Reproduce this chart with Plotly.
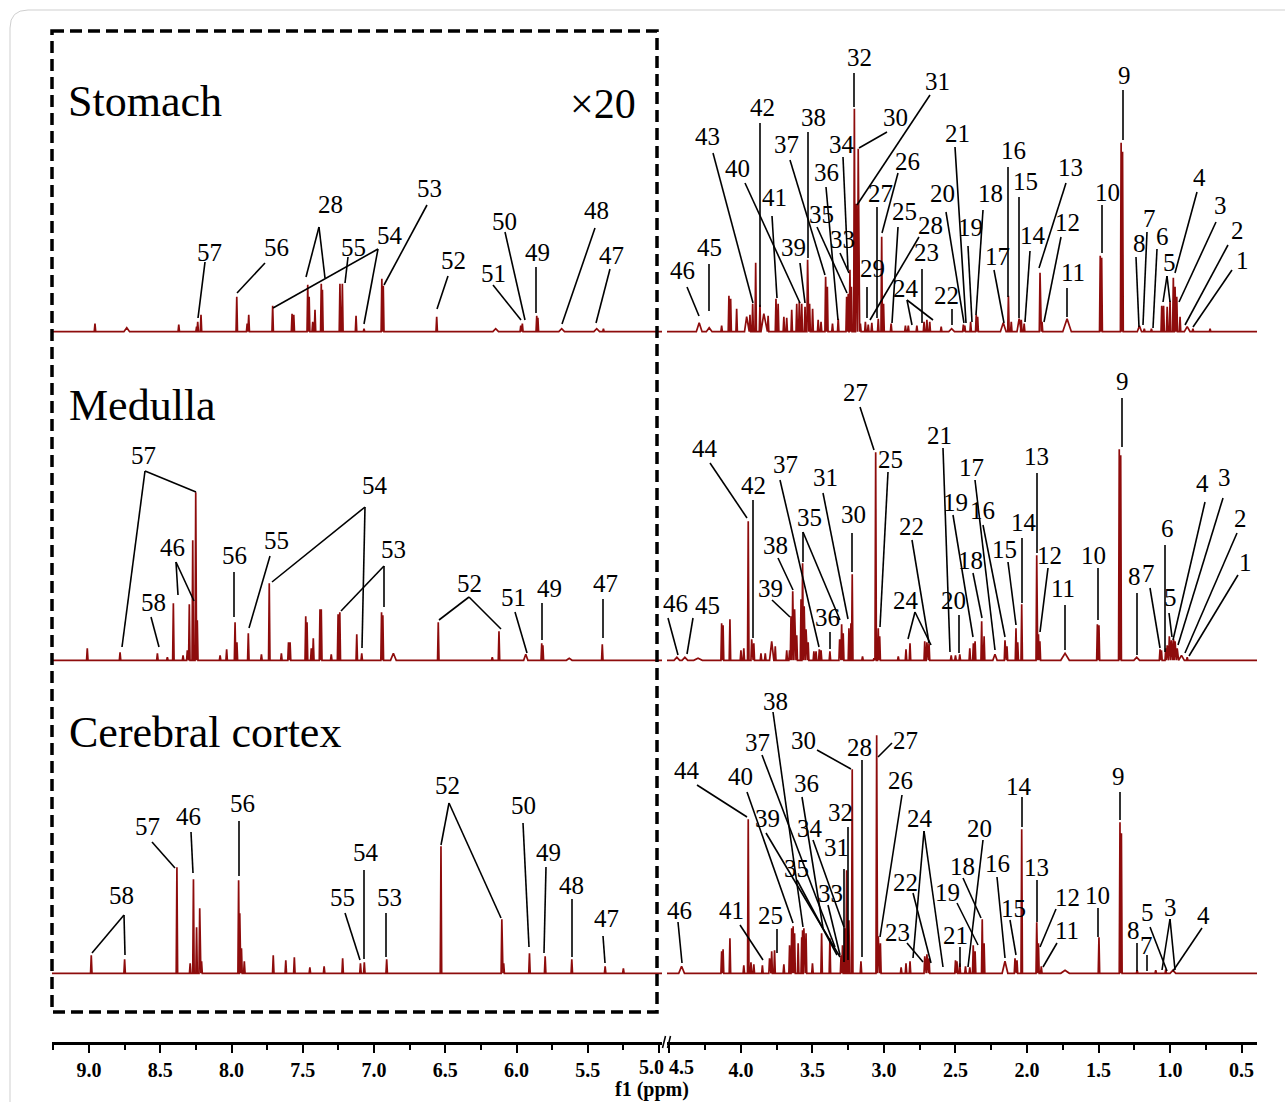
import plotly.graph_objects as go

# ---------------- data: peaks (ppm, intensity[, half-width]) -------------
STOMACH_LEFT = [(8.958, 8), (8.735, 4, 0.02), (8.37, 7), (8.245, 5), (8.237, 10), (8.214, 17),
    (7.963, 35), (7.89, 8), (7.879, 17), (7.711, 26), (7.575, 18), (7.563, 17), (7.465, 47),
    (7.455, 35), (7.43, 10), (7.414, 22), (7.37, 48), (7.362, 42), (7.239, 48), (7.222, 48),
    (7.126, 16), (7.07, 3), (6.945, 53), (6.935, 46), (6.56, 15), (6.146, 3, 0.02), (5.97, 6),
    (5.959, 8), (5.858, 16), (5.85, 14), (5.683, 3, 0.02), (5.437, 3, 0.02), (5.39, 3)]
STOMACH_RIGHT = [(4.292, 9, 0.02), (4.222, 4, 0.02), (4.135, 6), (4.084, 36), (4.072, 33),
    (4.03, 23), (3.96, 15, 0.015), (3.937, 17), (3.918, 28), (3.897, 69), (3.867, 27),
    (3.84, 18, 0.02), (3.81, 16), (3.755, 33), (3.74, 28), (3.70, 15), (3.68, 14), (3.645, 22),
    (3.61, 28), (3.592, 30), (3.575, 28), (3.552, 25), (3.534, 72), (3.52, 28), (3.499, 23),
    (3.46, 12), (3.44, 10), (3.408, 55), (3.396, 45), (3.36, 8), (3.32, 13), (3.261, 35),
    (3.25, 38), (3.238, 62), (3.228, 45), (3.207, 223), (3.194, 128), (3.18, 183), (3.165, 8),
    (3.13, 10), (3.11, 7), (3.085, 9), (3.04, 13), (3.016, 95), (3.003, 28), (2.95, 8),
    (2.85, 6), (2.83, 6), (2.77, 6), (2.72, 10), (2.70, 12), (2.68, 10), (2.60, 5),
    (2.527, 3, 0.02), (2.445, 7), (2.435, 6), (2.394, 10), (2.355, 17), (2.345, 15),
    (2.166, 9, 0.02), (2.13, 36), (2.11, 10), (2.055, 13, 0.015), (2.04, 12), (2.02, 8),
    (1.909, 59), (1.895, 10), (1.72, 13, 0.03), (1.488, 76), (1.478, 74), (1.342, 189),
    (1.332, 180), (1.214, 6, 0.015), (1.18, 3), (1.13, 3), (1.058, 26), (1.045, 26),
    (1.02, 25), (1.00, 31), (0.977, 54), (0.965, 45), (0.953, 35), (0.93, 15),
    (0.88, 5, 0.02), (0.84, 3), (0.72, 3)]
MEDULLA_LEFT = [(9.012, 12), (8.782, 8), (8.52, 7), (8.45, 3), (8.408, 57), (8.34, 5),
    (8.31, 10), (8.296, 56), (8.272, 120), (8.251, 168), (8.24, 40), (8.08, 5), (8.034, 11),
    (7.975, 38), (7.962, 18), (7.882, 27), (7.79, 6), (7.735, 77), (7.65, 7), (7.60, 18),
    (7.589, 18), (7.479, 44), (7.47, 38), (7.44, 12), (7.426, 22), (7.379, 51), (7.37, 51),
    (7.30, 6), (7.252, 46), (7.24, 48), (7.121, 26), (7.086, 7), (6.947, 48), (6.938, 45),
    (6.864, 7, 0.02), (6.549, 38), (6.17, 3), (6.123, 29), (5.935, 6, 0.015), (5.823, 17),
    (5.815, 15), (5.63, 2, 0.02), (5.398, 16)]
MEDULLA_RIGHT = [(4.448, 3, 0.02), (4.392, 3, 0.02), (4.3, 2, 0.03), (4.135, 37), (4.125, 35),
    (4.077, 41), (4.0, 10), (3.98, 12), (3.949, 139), (3.925, 21), (3.91, 17), (3.86, 7),
    (3.83, 7), (3.785, 19, 0.015), (3.76, 14), (3.68, 10), (3.66, 10), (3.65, 44), (3.638, 69),
    (3.625, 51), (3.61, 25), (3.58, 61), (3.569, 97), (3.558, 54), (3.545, 31), (3.53, 18),
    (3.49, 9), (3.475, 9), (3.452, 11), (3.44, 10), (3.378, 9), (3.31, 21), (3.296, 36),
    (3.285, 27), (3.245, 32), (3.231, 37), (3.222, 86), (3.15, 4), (3.07, 2), (3.058, 208),
    (3.04, 32), (3.03, 24), (2.90, 4), (2.846, 11), (2.818, 17), (2.715, 19), (2.70, 18),
    (2.685, 17), (2.53, 5), (2.50, 5), (2.47, 6), (2.40, 12), (2.375, 17), (2.363, 19),
    (2.317, 39), (2.30, 24), (2.224, 6, 0.015), (2.154, 20), (2.14, 14), (2.077, 32),
    (2.065, 18), (2.037, 56), (1.932, 105), (1.92, 26), (1.91, 19), (1.734, 7, 0.03),
    (1.508, 36), (1.497, 35), (1.355, 211), (1.345, 205), (1.233, 3, 0.02), (1.07, 11),
    (1.06, 10), (1.03, 12), (1.02, 15), (1.005, 24), (0.99, 20), (0.975, 21), (0.965, 19),
    (0.95, 12), (0.92, 5, 0.02), (0.88, 3)]
CORTEX_LEFT = [(8.984, 18), (8.75, 14), (8.383, 106), (8.29, 10), (8.267, 94), (8.245, 46),
    (8.223, 65), (8.21, 12), (7.95, 93), (7.942, 60), (7.93, 25), (7.91, 12), (7.707, 18),
    (7.619, 13), (7.559, 16), (7.45, 6), (7.35, 7), (7.22, 15), (7.095, 10), (7.068, 11),
    (6.911, 14), (6.53, 127), (6.103, 54), (6.09, 10), (5.909, 20), (5.799, 17), (5.612, 14),
    (5.378, 7), (5.25, 5)]
CORTEX_RIGHT = [(4.415, 7, 0.02), (4.135, 22), (4.125, 24), (4.077, 35), (3.98, 8),
    (3.949, 154), (3.93, 11), (3.91, 9), (3.85, 8), (3.80, 15), (3.785, 22), (3.765, 23),
    (3.70, 9), (3.66, 28), (3.645, 45), (3.635, 47), (3.625, 40), (3.60, 30), (3.575, 36),
    (3.569, 43), (3.56, 45), (3.545, 40), (3.50, 10), (3.436, 40), (3.378, 35), (3.30, 18),
    (3.29, 28), (3.273, 45), (3.261, 103), (3.245, 53), (3.222, 204), (3.161, 12),
    (3.051, 238), (3.04, 37), (3.025, 30), (2.88, 6), (2.846, 10), (2.818, 12), (2.715, 17),
    (2.70, 19), (2.685, 15), (2.50, 13), (2.49, 12), (2.47, 10), (2.43, 7), (2.40, 6),
    (2.376, 28), (2.363, 22), (2.313, 54), (2.30, 30), (2.154, 12, 0.02), (2.084, 15),
    (2.07, 13), (2.037, 144), (1.932, 51), (1.92, 30), (1.90, 7), (1.734, 3, 0.03),
    (1.497, 36), (1.35, 151), (1.34, 140), (1.23, 3), (1.10, 3), (1.03, 4), (0.98, 3, 0.02)]

PANELS = ["Stomach", "Medulla", "Cerebral cortex"]
TICKS_LEFT = [9.0, 8.5, 8.0, 7.5, 7.0, 6.5, 6.0, 5.5, 5.0]
TICKS_RIGHT = [4.5, 4.0, 3.5, 3.0, 2.5, 2.0, 1.5, 1.0, 0.5]
MINOR_LEFT = [9.25, 8.75, 8.25, 7.75, 7.25, 6.75, 6.25, 5.75, 5.25]
MINOR_RIGHT = [4.25, 3.75, 3.25, 2.75, 2.25, 1.75, 1.25, 0.75]

# ---------------- layout constants (pixels) ----------------
W, H, PH = 1285, 1102, 1042
LEFT_RANGE = [9.2596, 4.979]
RIGHT_RANGE = [4.517, 0.392]
BASE = {"Stomach": PH - 331.7, "Medulla": PH - 660.3, "Cerebral cortex": PH - 973.3}
RED = "#8e0c0c"
HW = 0.005
SERIF = "Liberation Serif"


def px(x):
    return x / W


def py(y):
    return (PH - y) / PH


def stick(peaks, rng, base):
    xs, ys = [rng[0]], [base]
    for p in sorted(peaks, key=lambda t: -t[0]):
        w = p[2] if len(p) > 2 else HW
        xs += [p[0] + w, p[0], p[0] - w]
        ys += [base, base + p[1], base]
    xs.append(rng[1]); ys.append(base)
    return xs, ys


# label layout: (text, x, y, [leader lines x0,y0,x1,y1]) in page pixels
LABELS = [
    ("57", 209, 252, [(205, 262, 198, 318)]), ("56", 276, 247, [(265, 263, 237, 293)]),
    ("28", 331, 204, [(319, 227, 306, 277), (319, 227, 325, 278)]),
    ("55", 353, 247, [(348, 257, 345, 283)]),
    ("54", 390, 236, [(378, 249, 364, 324), (378, 249, 273, 308)]),
    ("53", 430, 188, [(427, 205, 384, 285)]), ("52", 453, 260, [(448, 276, 437, 309)]),
    ("51", 493, 273, [(493, 285, 521, 320)]), ("50", 504, 221, [(505, 232, 525, 320)]),
    ("49", 537, 252, [(536, 267, 536, 313)]), ("48", 596, 211, [(595, 228, 562, 324)]),
    ("47", 611, 255, [(610, 269, 596, 323)]),
    ("46", 682, 270, [(687, 287, 699, 316)]), ("45", 709, 248, [(709, 264, 709, 311)]),
    ("43", 707, 137, [(713, 153, 753, 303)]), ("40", 737, 168, [(745, 183, 800, 303)]),
    ("42", 762, 108, [(760, 123, 760, 307)]), ("41", 774, 198, [(772, 216, 777, 298)]),
    ("39", 793, 247, [(800, 263, 805, 303)]), ("38", 813, 117, [(808, 132, 808, 258)]),
    ("37", 786, 145, [(790, 160, 825, 275)]), ("36", 826, 172, [(826, 187, 838, 320)]),
    ("35", 822, 215, [(817, 227, 847, 293)]), ("34", 842, 145, [(843, 157, 848, 270)]),
    ("33", 842, 240, [(840, 253, 849, 273)]), ("32", 859, 58, [(854, 73, 854, 107)]),
    ("30", 895, 117, [(887, 132, 859, 148)]), ("31", 937, 82, [(930, 95, 857, 205)]),
    ("27", 880, 193, [(877, 207, 877, 318)]), ("26", 907, 162, [(898, 173, 882, 233)]),
    ("25", 904, 212, [(898, 227, 892, 323)]), ("28", 930, 225, [(919, 237, 870, 320)]),
    ("29", 872, 268, [(867, 287, 867, 318)]), ("23", 926, 253, [(922, 269, 922, 323)]),
    ("24", 906, 288, [(907, 300, 912, 325), (907, 300, 933, 320)]),
    ("22", 946, 295, [(952, 309, 952, 325)]), ("20", 943, 194, [(946, 212, 964, 323)]),
    ("21", 957, 133, [(955, 147, 966, 323)]), ("19", 970, 227, [(968, 246, 972, 322)]),
    ("18", 990, 193, [(983, 210, 976, 315)]), ("17", 997, 256, [(994, 270, 1004, 323)]),
    ("16", 1013, 150, [(1008, 167, 1008, 297)]), ("15", 1025, 182, [(1019, 197, 1019, 318)]),
    ("14", 1033, 235, [(1030, 251, 1025, 322)]), ("13", 1070, 167, [(1066, 183, 1039, 268)]),
    ("12", 1067, 222, [(1061, 237, 1044, 322)]), ("11", 1073, 272, [(1067, 288, 1067, 317)]),
    ("10", 1107, 192, [(1102, 205, 1102, 253)]), ("9", 1124, 75, [(1123, 90, 1123, 140)]),
    ("8", 1139, 244, [(1136, 257, 1139, 327)]), ("7", 1149, 218, [(1147, 232, 1143, 325)]),
    ("6", 1162, 237, [(1157, 249, 1153, 328)]),
    ("5", 1169, 262, [(1167, 276, 1163, 302), (1167, 276, 1170, 302)]),
    ("4", 1199, 177, [(1197, 192, 1175, 273)]), ("3", 1220, 205, [(1216, 222, 1179, 302)]),
    ("2", 1237, 230, [(1228, 245, 1185, 325)]), ("1", 1242, 260, [(1232, 270, 1193, 327)]),
    # medulla
    ("57", 143, 455, [(145, 471, 122, 647), (145, 471, 196, 492)]),
    ("58", 153, 602, [(151, 617, 159, 647)]),
    ("46", 172, 548, [(176, 562, 178, 595), (176, 562, 194, 601)]),
    ("56", 234, 556, [(234, 572, 234, 617)]), ("55", 276, 540, [(270, 556, 249, 628)]),
    ("54", 375, 485, [(365, 507, 362, 648), (365, 507, 272, 582)]),
    ("53", 393, 549, [(384, 566, 384, 607), (384, 566, 341, 611)]),
    ("52", 469, 583, [(469, 597, 439, 620), (469, 597, 501, 629)]),
    ("51", 513, 597, [(515, 612, 527, 653)]), ("49", 549, 588, [(542, 603, 542, 640)]),
    ("47", 605, 583, [(603, 599, 603, 638)]),
    ("46", 675, 603, [(668, 618, 678, 655)]), ("45", 707, 605, [(693, 618, 687, 654)]),
    ("44", 705, 448, [(710, 463, 747, 518)]), ("42", 753, 485, [(753, 500, 753, 638)]),
    ("37", 785, 465, [(780, 480, 819, 647)]), ("38", 775, 545, [(778, 558, 793, 590)]),
    ("39", 770, 588, [(772, 600, 790, 617)]),
    ("35", 809, 517, [(803, 532, 803, 562), (803, 532, 840, 620)]),
    ("36", 827, 617, [(830, 632, 830, 649)]), ("31", 825, 478, [(823, 493, 848, 619)]),
    ("30", 853, 514, [(852, 533, 852, 572)]), ("27", 855, 392, [(860, 407, 874, 450)]),
    ("25", 890, 459, [(888, 472, 880, 627)]),
    ("24", 906, 600, [(915, 612, 908, 639), (915, 612, 931, 645)]),
    ("22", 911, 527, [(912, 540, 929, 643)]), ("21", 940, 435, [(943, 448, 950, 652)]),
    ("20", 953, 600, [(959, 615, 959, 653)]), ("19", 955, 502, [(953, 515, 973, 637)]),
    ("17", 971, 467, [(975, 480, 995, 650)]), ("18", 970, 560, [(973, 573, 982, 618)]),
    ("16", 983, 510, [(983, 525, 1005, 637)]), ("15", 1004, 549, [(1008, 562, 1016, 625)]),
    ("14", 1024, 522, [(1022, 538, 1022, 603)]), ("13", 1036, 457, [(1037, 473, 1037, 553)]),
    ("12", 1049, 555, [(1048, 568, 1040, 632)]), ("11", 1063, 588, [(1065, 605, 1065, 650)]),
    ("10", 1093, 555, [(1098, 568, 1098, 620)]), ("9", 1122, 382, [(1122, 398, 1122, 447)]),
    ("8", 1134, 577, [(1137, 593, 1137, 655)]), ("7", 1148, 573, [(1150, 588, 1160, 648)]),
    ("6", 1167, 528, [(1165, 545, 1165, 652)]), ("5", 1170, 597, [(1169, 613, 1172, 637)]),
    ("4", 1202, 483, [(1205, 502, 1173, 640)]), ("3", 1224, 478, [(1223, 498, 1178, 645)]),
    ("2", 1240, 518, [(1237, 533, 1185, 653)]), ("1", 1245, 562, [(1238, 575, 1189, 656)]),
    # cerebral cortex
    ("58", 121, 895, [(124, 915, 92, 953), (124, 915, 125, 955)]),
    ("57", 147, 827, [(152, 842, 175, 868)]), ("46", 188, 816, [(191, 832, 193, 873)]),
    ("56", 242, 803, [(239, 821, 239, 876)]), ("55", 342, 898, [(345, 913, 360, 960)]),
    ("54", 366, 852, [(364, 870, 364, 959)]), ("53", 389, 898, [(386, 913, 386, 957)]),
    ("52", 447, 785, [(449, 803, 441, 845), (449, 803, 501, 918)]),
    ("50", 523, 805, [(523, 823, 529, 947)]), ("49", 548, 852, [(546, 867, 544, 953)]),
    ("48", 571, 885, [(572, 899, 572, 957)]), ("47", 606, 918, [(603, 936, 605, 963)]),
    ("46", 679, 910, [(678, 922, 682, 963)]), ("41", 731, 910, [(740, 925, 763, 960)]),
    ("25", 770, 915, [(777, 929, 777, 953)]), ("44", 687, 770, [(697, 785, 747, 817)]),
    ("40", 741, 777, [(747, 792, 793, 923)]), ("39", 767, 819, [(766, 833, 840, 957)]),
    ("37", 757, 743, [(762, 755, 835, 947)]), ("38", 775, 701, [(773, 712, 803, 927)]),
    ("35", 796, 868, [(797, 880, 837, 955)]), ("30", 803, 740, [(817, 750, 851, 769)]),
    ("36", 806, 783, [(802, 797, 823, 928)]), ("34", 810, 828, [(813, 840, 844, 927)]),
    ("33", 830, 893, [(828, 905, 840, 955)]), ("31", 836, 848, [(844, 869, 844, 962)]),
    ("32", 840, 812, [(848, 827, 848, 960)]), ("28", 859, 747, [(862, 760, 862, 957)]),
    ("27", 905, 740, [(892, 743, 878, 757)]), ("26", 901, 780, [(902, 795, 880, 937)]),
    ("24", 920, 819, [(924, 831, 913, 958), (924, 831, 943, 967)]),
    ("23", 897, 932, [(907, 943, 923, 962)]), ("22", 905, 882, [(913, 893, 931, 963)]),
    ("21", 955, 935, [(960, 947, 960, 967)]), ("19", 947, 892, [(957, 903, 978, 945)]),
    ("20", 980, 828, [(983, 840, 968, 967)]), ("18", 962, 866, [(963, 878, 981, 918)]),
    ("16", 997, 863, [(997, 877, 1005, 958)]), ("15", 1013, 908, [(1010, 920, 1016, 955)]),
    ("14", 1019, 786, [(1022, 797, 1022, 827)]), ("13", 1036, 867, [(1037, 880, 1037, 922)]),
    ("12", 1067, 897, [(1056, 909, 1040, 947)]), ("11", 1067, 930, [(1057, 943, 1043, 967)]),
    ("10", 1097, 895, [(1098, 908, 1098, 937)]), ("9", 1118, 777, [(1120, 792, 1120, 820)]),
    ("8", 1133, 930, [(1137, 943, 1137, 971)]), ("7", 1146, 945, [(1147, 955, 1147, 971)]),
    ("5", 1147, 912, [(1150, 927, 1167, 971)]),
    ("3", 1170, 907, [(1170, 919, 1162, 970), (1170, 919, 1175, 970)]),
    ("4", 1203, 915, [(1202, 928, 1173, 971)]),
]

fig = go.Figure()
SPECTRA = [("Stomach", STOMACH_LEFT, STOMACH_RIGHT), ("Medulla", MEDULLA_LEFT, MEDULLA_RIGHT),
           ("Cerebral cortex", CORTEX_LEFT, CORTEX_RIGHT)]
for name, left, right in SPECTRA:
    b = BASE[name]
    xs, ys = stick(left, LEFT_RANGE, b)
    fig.add_trace(go.Scatter(x=xs, y=ys, mode="lines", xaxis="x", yaxis="y",
                             line=dict(color=RED, width=1.7), showlegend=False, hoverinfo="skip"))
    xs, ys = stick(right, RIGHT_RANGE, b)
    fig.add_trace(go.Scatter(x=xs, y=ys, mode="lines", xaxis="x2", yaxis="y",
                             line=dict(color=RED, width=1.7), showlegend=False, hoverinfo="skip"))

annotations = []
shapes = []
for text, tx, ty, lines in LABELS:
    annotations.append(dict(x=px(tx), y=py(ty), xref="paper", yref="paper", text=text,
                            showarrow=False, xanchor="center", yanchor="middle",
                            font=dict(family=SERIF, size=25, color="black")))
    for x0, y0, x1, y1 in lines:
        shapes.append(dict(type="line", xref="paper", yref="paper", x0=px(x0), y0=py(y0),
                           x1=px(x1), y1=py(y1), line=dict(color="black", width=1.6)))

# panel titles and x20
TITLE_POS = {"Stomach": (66, 101), "Medulla": (67, 405), "Cerebral cortex": (67, 732)}
for name in PANELS:
    tx, ty = TITLE_POS[name]
    annotations.append(dict(x=px(tx), y=py(ty), xref="paper", yref="paper", text=name,
                            showarrow=False, xanchor="left", yanchor="middle",
                            font=dict(family=SERIF, size=44, color="black")))
annotations.append(dict(x=px(603), y=py(104), xref="paper", yref="paper", text="×20",
                        showarrow=False, xanchor="center", yanchor="middle",
                        font=dict(family=SERIF, size=42, color="black")))
# squeezed tick labels at the axis break
for t, xx in (("5.0", 651), ("4.5", 681)):
    annotations.append(dict(x=px(xx), y=py(1067), xref="paper", yref="paper", text=t,
                            showarrow=False, xanchor="center", yanchor="middle",
                            font=dict(family=SERIF, size=20, color="black", weight="bold")))
annotations.append(dict(x=px(652), y=py(1089), xref="paper", yref="paper", text="f1 (ppm)",
                        showarrow=False, xanchor="center", yanchor="middle",
                        font=dict(family=SERIF, size=20, color="black", weight="bold")))

# dashed box around the x20 region
shapes.append(dict(type="rect", xref="paper", yref="paper", x0=px(52), x1=px(657),
                   y0=py(31), y1=py(1012), line=dict(color="black", width=3.5, dash="12px,6px")))
# axis break marks
for xb in (664, 669):
    shapes.append(dict(type="line", xref="paper", yref="paper", x0=px(xb - 1.5), y0=py(1048),
                       x1=px(xb + 1.5), y1=py(1036), line=dict(color="black", width=1.5)))
# faint outer frame
shapes.append(dict(type="path", xref="paper", yref="paper",
                   path=f"M {px(1300)},{py(10)} L {px(28)},{py(10)} Q {px(10)},{py(10)} {px(10)},{py(28)} L {px(10)},{py(1120)}",
                   line=dict(color="#cfcfcf", width=1)))

axis_common = dict(showline=True, linecolor="black", linewidth=3, ticks="outside", ticklen=8,
                   tickwidth=2, tickcolor="black", showgrid=False, zeroline=False,
                   tickfont=dict(family=SERIF, size=20, color="black", weight="bold"),
                   ticklabelstandoff=0, fixedrange=True, anchor="y")
fig.update_layout(
    width=W, height=H, margin=dict(l=0, r=0, t=0, b=H - PH),
    paper_bgcolor="white", plot_bgcolor="rgba(0,0,0,0)",
    xaxis=dict(domain=[px(52), px(662)], range=LEFT_RANGE, tickmode="array",
               tickvals=TICKS_LEFT, ticktext=[("" if v == 5.0 else f"{v:.1f}") for v in TICKS_LEFT],
               minor=dict(tickmode="array", tickvals=MINOR_LEFT, ticks="outside", ticklen=5,
                          tickwidth=1.5, tickcolor="black"), **axis_common),
    xaxis2=dict(domain=[px(667), px(1257)], range=RIGHT_RANGE, tickmode="array",
                tickvals=TICKS_RIGHT, ticktext=[("" if v == 4.5 else f"{v:.1f}") for v in TICKS_RIGHT],
                minor=dict(tickmode="array", tickvals=MINOR_RIGHT, ticks="outside", ticklen=5,
                           tickwidth=1.5, tickcolor="black"), **axis_common),
    yaxis=dict(range=[0, PH], visible=False, fixedrange=True, domain=[0, 1]),
    annotations=annotations, shapes=shapes,
)
fig.write_html("out.html")
